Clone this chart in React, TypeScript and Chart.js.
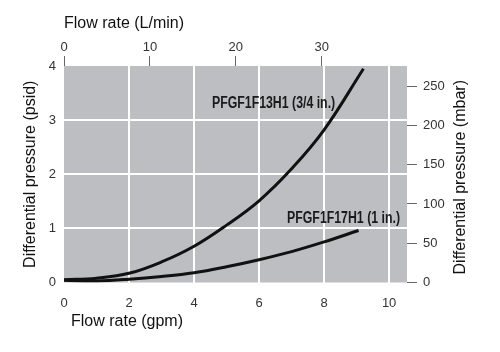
import React, { useEffect, useRef } from "react";
import { Chart, registerables } from "chart.js";

Chart.register(...registerables);

// Flow rate (gpm) and differential pressure (psid)
const seriesNames = ["PFGF1F13H1 (3/4 in.)", "PFGF1F17H1 (1 in.)"];
const flow34 = [0, 1, 2, 3, 4, 5, 6, 7, 8, 9.21];
const dp34 = [0.05, 0.08, 0.17, 0.38, 0.67, 1.06, 1.51, 2.1, 2.82, 3.95];
const flow1 = [0, 1, 2, 3, 4, 5, 6, 7, 8, 9.06];
const dp1 = [0.04, 0.03, 0.06, 0.11, 0.18, 0.29, 0.42, 0.57, 0.75, 0.96];

// Series labels inside the plot (gpm, psid of their left/middle anchor)
const labelX = [4.55, 6.86];
const labelY = [3.3, 1.18];

// Axis ranges, units and tick values
const gpmMax = 10.55;
const psiMax = 4;
const lpmPerGpm = 3.785;
const mbarPerPsi = 68.948;
const bottomTicks = [0, 2, 4, 6, 8, 10];
const topTicks = [0, 10, 20, 30];
const leftTicks = [0, 1, 2, 3, 4];
const rightTicks = [0, 50, 100, 150, 200, 250];

const axisTitles = {
  top: "Flow rate (L/min)",
  bottom: "Flow rate (gpm)",
  left: "Differential pressure (psid)",
  right: "Differential pressure (mbar)",
};

const FONT = '"Liberation Sans", Arial, sans-serif';

const setTicks = (vals: number[]) => (s: any) => {
  s.ticks = vals.map((v) => ({ value: v }));
};

export default function App() {
  const ref = useRef<HTMLCanvasElement | null>(null);

  useEffect(() => {
    if (!ref.current) return;

    const bgPlugin = {
      id: "plotBg",
      beforeDraw(chart: any) {
        const { ctx, chartArea: a } = chart;
        ctx.save();
        ctx.fillStyle = "#ffffff";
        ctx.fillRect(0, 0, chart.width, chart.height);
        ctx.fillStyle = "#bdbec1";
        ctx.fillRect(a.left, a.top, a.right - a.left, a.bottom - a.top);
        ctx.restore();
      },
    };

    const textPlugin = {
      id: "texts",
      afterDatasetsDraw(chart: any) {
        const { ctx, scales, chartArea: a } = chart;
        ctx.save();
        ctx.fillStyle = "#1a1a1a";
        ctx.font = `bold 16px ${FONT}`;
        ctx.textBaseline = "middle";
        ctx.textAlign = "left";
        seriesNames.forEach((t, i) => {
          const px = scales.x.getPixelForValue(labelX[i]);
          const py = scales.y.getPixelForValue(labelY[i]);
          ctx.save();
          ctx.translate(px, py);
          ctx.scale(0.77, 1);
          ctx.fillText(t, 0, 0);
          ctx.restore();
        });
        // bottom axis title
        ctx.font = `16px ${FONT}`;
        ctx.fillStyle = "#111";
        ctx.fillText(axisTitles.bottom, a.left + 7, 322);
        // right axis title, reading upward
        ctx.textAlign = "center";
        ctx.translate(461, (a.top + a.bottom) / 2 + 3);
        ctx.rotate(-Math.PI / 2);
        ctx.fillText(axisTitles.right, 0, 0);
        ctx.restore();
      },
    };

    const hideEdges = (lo: number, hi: number) => (c: any) =>
      c.tick && (Math.abs(c.tick.value - lo) < 1e-6 || Math.abs(c.tick.value - hi) < 1e-6)
        ? "rgba(0,0,0,0)"
        : "#ffffff";

    const tickFont = { family: FONT, size: 13 };
    const titleFont = { family: FONT, size: 16 };
    const fmt = (v: any) => String(Math.round(Number(v)));

    const chart = new Chart(ref.current, {
      type: "line",
      data: {
        datasets: [
          {
            label: seriesNames[0],
            data: flow34.map((v, i) => ({ x: v, y: dp34[i] })),
            borderColor: "#111",
            borderWidth: 3,
            pointRadius: 0,
            tension: 0.4,
            xAxisID: "x",
            yAxisID: "y",
          },
          {
            label: seriesNames[1],
            data: flow1.map((v, i) => ({ x: v, y: dp1[i] })),
            borderColor: "#111",
            borderWidth: 3,
            pointRadius: 0,
            tension: 0.4,
            xAxisID: "x",
            yAxisID: "y",
          },
        ],
      },
      options: {
        responsive: false,
        animation: false,
        events: [],
        layout: { padding: 0 },
        plugins: { legend: { display: false }, tooltip: { enabled: false } },
        scales: {
          x: {
            type: "linear",
            position: "bottom",
            min: 0,
            max: gpmMax,
            afterBuildTicks: setTicks(bottomTicks),
            ticks: { color: "#333", font: tickFont, padding: 13, callback: fmt },
            grid: { color: hideEdges(0, gpmMax), lineWidth: 2, drawTicks: false },
            border: { display: false },
            title: { display: false },
            afterFit(s: any) { s.height = 69.5; },
          },
          x2: {
            type: "linear",
            position: "top",
            min: 0,
            max: gpmMax * lpmPerGpm,
            afterBuildTicks: setTicks(topTicks),
            ticks: { color: "#333", font: tickFont, padding: 1, callback: fmt },
            grid: { drawOnChartArea: false, drawTicks: true, tickLength: 10, color: "#666", lineWidth: 1 },
            border: { display: false },
            title: { display: true, text: axisTitles.top, align: "start", color: "#111", font: titleFont, padding: { top: 14.4, bottom: 0 } },
            afterFit(s: any) { s.height = 66; },
          },
          y: {
            type: "linear",
            position: "left",
            min: 0,
            max: psiMax,
            afterBuildTicks: setTicks(leftTicks),
            ticks: { color: "#333", font: tickFont, padding: 8, callback: fmt },
            grid: { color: hideEdges(0, psiMax), lineWidth: 2, drawTicks: false },
            border: { display: false },
            title: { display: true, text: axisTitles.left, color: "#111", font: titleFont, padding: { top: 21.4, bottom: 0 } },
            afterFit(s: any) { s.width = 64; },
          },
          y2: {
            type: "linear",
            position: "right",
            min: 0,
            max: psiMax * mbarPerPsi,
            afterBuildTicks: setTicks(rightTicks),
            ticks: { color: "#333", font: tickFont, padding: 6, callback: fmt },
            grid: { drawOnChartArea: false, drawTicks: true, tickLength: 10, color: "#666", lineWidth: 1 },
            border: { display: false },
            afterFit(s: any) { s.width = 93; },
          },
        },
      },
      plugins: [bgPlugin, textPlugin],
    } as any);

    return () => chart.destroy();
  }, []);

  return (
    <div style={{ position: "absolute", left: 0, top: 0, width: 500, height: 352, background: "#fff" }}>
      <canvas ref={ref} width={500} height={352} style={{ width: 500, height: 352, display: "block" }} />
    </div>
  );
}
